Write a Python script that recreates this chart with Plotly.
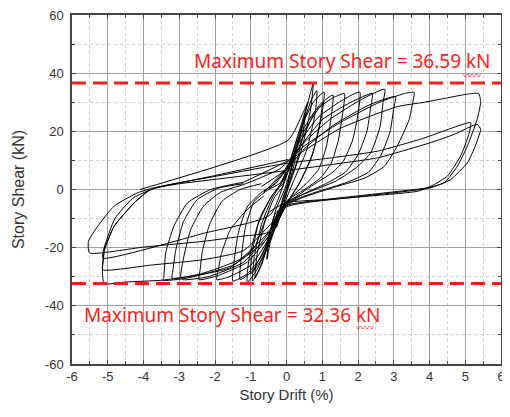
import plotly.graph_objects as go

# ---- hysteresis data (drift %, shear kN) ----
drift_c1 = [0.0, 0.12, 0.28, 0.22, 0.05, -0.12, -0.28, -0.22, -0.05, 0.02]
shear_c1 = [0, 7, 14, 9, 1, -7, -13, -8, -1, 1]

drift_c2 = [0.02, 0.2, 0.4, 0.52, 0.45, 0.25, 0.0, -0.25, -0.45, -0.55, -0.48, -0.3, -0.05]
shear_c2 = [1, 10, 19, 26, 18, 8, 0, -10, -18, -24, -16, -7, 0]

drift_c3 = [-0.05, 0.15, 0.4, 0.6, 0.75, 0.68, 0.45, 0.15, -0.15, -0.45, -0.7, -0.88, -0.82, -0.6, -0.35, -0.1]
shear_c3 = [0, 8, 20, 30, 36.59, 28, 15, 4, -6, -16, -26, -30.5, -22, -11, -3, 1]

drift_c4 = [-0.1, 0.15, 0.45, 0.7, 0.85, 0.8, 0.55, 0.2, -0.1, -0.45, -0.75, -0.95, -0.9, -0.7, -0.4, -0.15]
shear_c4 = [1, 10, 22, 31, 34, 26, 13, 3, -6, -17, -27, -31.5, -23, -12, -3, 2]

drift_c5 = [-0.15, 0.1, 0.4, 0.75, 1.05, 0.98, 0.75, 0.4, 0.1, -0.2, -0.5, -0.85, -1.1, -1.05, -0.8, -0.45, -0.1]
shear_c5 = [2, 10, 21, 30, 33.5, 25, 13, 3, -3, -10, -19, -28, -32, -24, -12, -3, 3]

drift_c6 = [-0.1, 0.15, 0.5, 0.8, 1.0, 0.92, 0.7, 0.35, 0.0, -0.35, -0.7, -1.0, -0.95, -0.75, -0.4, -0.1]
shear_c6 = [3, 9, 19, 27, 30, 22, 11, 2, -5, -14, -24, -29, -21, -10, -2, 2]

drift_c15 = [-0.2, 0.1, 0.4, 0.85, 1.1, 1.3, 1.25, 1.12, 0.9, 0.55, 0.1, -0.3, -0.6, -0.95, -1.3,
             -1.27, -1.15, -0.9, -0.5, -0.2]
shear_c15 = [2, 8, 18, 27, 31, 32.5, 25, 15, 7, 2, -3, -10, -20, -28, -31,
             -24, -13, -4, 0, 2]

drift_c7 = [-0.1, 0.1, 0.35, 0.8, 1.3, 1.62, 1.57, 1.45, 1.25, 0.95, 0.5, 0.0, -0.35, -0.7, -1.1, -1.5,
            -1.47, -1.35, -1.1, -0.7, -0.3]
shear_c7 = [2, 8, 18, 27, 31.5, 33, 26, 17, 9, 4, 0, -4, -13, -23, -29, -31.5,
            -25, -15, -6, -1, 2]

drift_c8 = [-0.3, 0.0, 0.35, 0.9, 1.6, 2.05, 2.0, 1.85, 1.6, 1.3, 0.8, 0.2, -0.3, -0.55, -1.0, -1.6, -1.95,
            -1.9, -1.82, -1.57, -1.1, -0.64]
shear_c8 = [2, 7, 16, 25, 31, 33.5, 26, 17, 10, 6, 2, -3, -8, -18, -26, -30, -31,
            -27, -22, -13.8, -6.9, -2.3]

drift_c16 = [-0.5, 0.0, 0.4, 1.0, 1.8, 2.4, 2.35, 2.25, 2.0, 1.65, 1.1, 0.4, -0.2, -0.5, -1.1, -1.9, -2.45,
             -2.42, -2.35, -2.15, -1.8, -1.3, -0.7]
shear_c16 = [0, 7, 15, 24, 30, 33, 28, 20, 12, 6, 2, -2, -7, -16, -25, -29.5, -31,
             -28, -21, -12, -4, 0, 2]

drift_c9 = [-0.64, -0.1, 0.4, 1.2, 2.1, 2.75, 2.7, 2.62, 2.36, 2.0, 1.4, 0.6, -0.1, -0.5, -1.2, -2.2, -2.9,
            -2.96, -2.87, -2.68, -2.32, -1.85, -1.2]
shear_c9 = [-1, 6, 15, 24, 31, 34.5, 30, 21.8, 12.7, 8, 3, -1, -5, -15, -25, -30, -31,
            -29.9, -23, -13.8, -5.7, -1, 1.7]

drift_c17 = [-0.7, 0.0, 0.5, 1.3, 2.3, 3.05, 3.0, 2.9, 2.65, 2.3, 1.7, 0.8, 0.0, -0.45, -1.3, -2.4, -3.2,
             -3.18, -3.1, -2.88, -2.5, -1.9, -1.2]
shear_c17 = [1, 7, 14, 22, 29, 32, 28, 20, 12, 6, 2.5, -1, -5, -14, -24, -29, -30.5,
             -28, -21, -11, -3.5, 0.5, 2]

drift_c10 = [-1.2, -0.2, 0.5, 1.5, 2.6, 3.3, 3.57, 3.53, 3.43, 3.1, 2.74, 2.2, 1.4, 0.4, -0.2, -0.55, -1.5,
             -2.8, -3.45, -3.43, -3.38, -3.15, -2.77, -2.12, -1.2]
shear_c10 = [1.7, 7, 15, 23, 30, 33, 33.4, 29.9, 24, 15, 8, 4, 1, -3, -7, -17, -26,
             -30.5, -31.2, -30, -21.8, -12.6, -4.6, 0, 2.5]

drift_c11 = [-1.2, 0.05, 1.5, 3.1, 3.85, 4.5, 5.06, 5.38, 5.43, 5.33, 5.06, 4.78, 4.41, 3.94, 2.5, 1.0, 0.0,
             -0.5, -0.9, -1.6, -2.5, -3.5, -4.5, -5.1, -5.15, -5.1, -4.82, -4.26, -3.8, -2.0]
shear_c11 = [2.5, 10, 21, 28.5, 30, 31.5, 32.8, 33, 29.9, 24, 15, 8, 2.3, 0.6, -1.5, -3.5, -4.5,
             -8, -20, -27, -29.5, -31.2, -31.8, -32.36, -28, -21, -12.6, -4.6, 0, 4.5]

drift_c12 = [-2.0, 0.0, 1.2, 2.55, 3.8, 4.6, 5.15, 5.1, 4.87, 4.5, 4.1, 3.67, 2.0, 0.0, -0.45, -1.2,
             -2.31, -3.8, -5.14, -5.12, -5.09, -4.82, -4.26, -3.8, -3.0]
shear_c12 = [4.5, 9, 10.8, 13.2, 17.5, 21, 23, 19, 11.5, 4.6, 1.5, -0.6, -2.6, -5.5, -12, -21,
             -24.1, -26, -27.6, -24, -20.7, -12.6, -4.6, 0, 2]

drift_c13 = [-3.0, 0.0, 1.2, 2.55, 4.0, 4.7, 5.33, 5.43, 5.25, 5.06, 4.59, 4.0, 2.0, 0.0, -0.55, -1.2,
             -2.31, -4.0, -5.51, -5.54, -5.28, -4.82, -4.16, -3.7, -2.31, 0.05]
shear_c13 = [2, 6.5, 8.5, 10.9, 16, 19, 22.4, 20.7, 14, 9.2, 3.4, 0.5, -2.5, -6, -14.9, -16,
             -17.8, -19.8, -21.8, -17.8, -12.6, -5.7, -1.1, 0.6, 4, 10.3]

drift_c14 = [-4.1, 0.05, 0.45, 0.6, 0.3, -0.45, -2.3, -5.14, -5.1, -4.8, -4.3, -3.7]
shear_c14 = [0, 17, 26, 30, 18, -8.6, -15, -23.6, -20, -10, -3, 0.5]

drift_cycles = [drift_c1, drift_c2, drift_c3, drift_c4, drift_c5, drift_c6, drift_c15, drift_c7,
                drift_c8, drift_c16, drift_c9, drift_c17, drift_c10, drift_c11, drift_c12, drift_c13, drift_c14]
shear_cycles = [shear_c1, shear_c2, shear_c3, shear_c4, shear_c5, shear_c6, shear_c15, shear_c7,
                shear_c8, shear_c16, shear_c9, shear_c17, shear_c10, shear_c11, shear_c12, shear_c13, shear_c14]

max_pos = 36.59
max_neg = -32.36

x_ticks = [-6, -5, -4, -3, -2, -1, 0, 1, 2, 3, 4, 5, 6]
x_ticktext = ["-6", "-5", "-4", "-3", "-2", "-1", "0", "1", "2", "3", "4", "5", "6"]
y_ticks = [-60, -40, -20, 0, 20, 40, 60]
y_ticktext = ["-60", "-40", "-20", "0", "20", "40", "60"]

fig = go.Figure()

for dx, sy in zip(drift_cycles, shear_cycles):
    fig.add_trace(go.Scatter(x=dx, y=sy, mode="lines",
                             line=dict(color="black", width=1, shape="spline", smoothing=0.5),
                             showlegend=False, hoverinfo="skip"))

for v in (max_pos, max_neg):
    fig.add_trace(go.Scatter(x=[-6, 6], y=[v, v], mode="lines",
                             line=dict(color="#ff1a1a", width=3, dash="14px,7px"),
                             showlegend=False, hoverinfo="skip"))

red_font = dict(family="Noto Sans, Liberation Sans, sans-serif", size=19, color="#ff2020")
squiggle_font = dict(family="Noto Sans CJK SC, sans-serif", size=9, color="#ff2020")
fig.add_annotation(x=-2.65, y=44.1, xref="x", yref="y", xanchor="left", yanchor="middle",
                   text="Maximum Story Shear = %.2f kN" % max_pos, showarrow=False, font=red_font)
fig.add_annotation(x=-5.72, y=-43.1, xref="x", yref="y", xanchor="left", yanchor="middle",
                   text="Maximum Story Shear = %.2f kN" % abs(max_neg), showarrow=False, font=red_font)
fig.add_annotation(x=5.2, y=39.3, xref="x", yref="y", xanchor="center", yanchor="middle",
                   text="〰〰", showarrow=False, font=squiggle_font)
fig.add_annotation(x=2.2, y=-47.6, xref="x", yref="y", xanchor="center", yanchor="middle",
                   text="〰〰", showarrow=False, font=squiggle_font)

axis_common = dict(
    showline=True, mirror="allticks", linecolor="#444444", linewidth=1.5,
    showgrid=True, gridcolor="#a0a0a0", gridwidth=1,
    zeroline=False, ticks="inside", ticklen=4, tickcolor="#444444", automargin=False,
    ticklabeloverflow="allow",
    tickfont=dict(family="Liberation Sans, Arial, sans-serif", size=13, color="#333333"),
)

fig.update_xaxes(range=[-6, 6], tickvals=x_ticks, ticktext=x_ticktext,
                 minor=dict(dtick=0.5, showgrid=True, gridcolor="#cfcfcf", griddash="dot", gridwidth=1,
                            ticks="inside", ticklen=3, tickcolor="#444444"),
                 title=dict(text="Story Drift (%)", standoff=6,
                            font=dict(family="Liberation Sans, Arial, sans-serif", size=15, color="#333333")),
                 **axis_common)
fig.update_yaxes(range=[-60, 60], tickvals=y_ticks, ticktext=y_ticktext, ticklabelstandoff=4,
                 minor=dict(dtick=10, showgrid=True, gridcolor="#cfcfcf", griddash="dot", gridwidth=1,
                            ticks="inside", ticklen=3, tickcolor="#444444"),
                 title=dict(text="Story Shear (kN)", standoff=16,
                            font=dict(family="Liberation Sans, Arial, sans-serif", size=16, color="#333333")),
                 **axis_common)

# the page body adds 8 px on every side; the figure is sized so the page never overflows the window
fig.update_layout(
    width=494, height=401,
    margin=dict(l=64, r=1, t=7, b=45),
    paper_bgcolor="white", plot_bgcolor="white",
)

fig.write_html("out.html")
